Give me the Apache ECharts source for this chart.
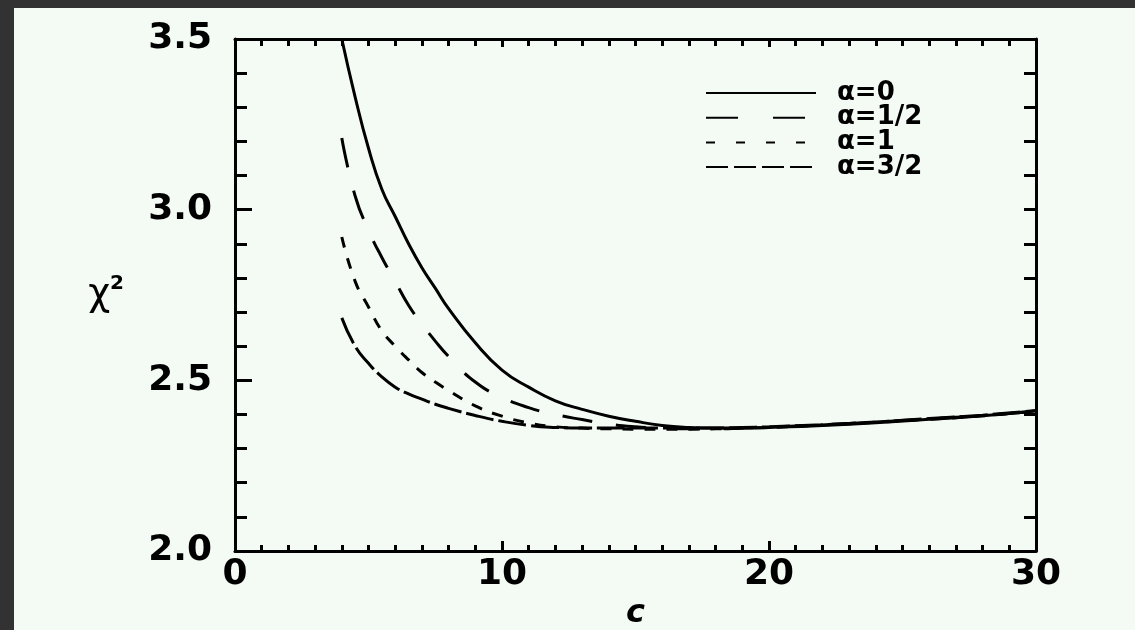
<!DOCTYPE html>
<html>
<head>
<meta charset="utf-8">
<script src="https://cdn.jsdelivr.net/npm/echarts@6/dist/echarts.min.js"></script>
<style>
  html, body { margin: 0; padding: 0; background: #323232; }
  #main { position: absolute; left: 14px; top: 8px; width: 1121px; height: 622px; }
</style>
</head>
<body>
<div id="main"></div>
<script>
// shared c values (x axis)
var cValues = [4, 4.5, 5, 5.5, 6, 6.5, 7, 7.5, 8, 9, 10, 11, 12, 13, 14, 15, 16, 17, 18, 19, 20, 22, 24, 26, 28, 30];

// chi^2 for each alpha
var alpha0  = [3.50, 3.33, 3.18, 3.06, 2.98, 2.90, 2.83, 2.77, 2.71, 2.61, 2.53, 2.48, 2.44, 2.415, 2.395, 2.38, 2.368, 2.362, 2.36, 2.36, 2.362, 2.368, 2.376, 2.386, 2.396, 2.41];
var alpha05 = [3.21, 3.04, 2.94, 2.86, 2.79, 2.72, 2.665, 2.615, 2.57, 2.495, 2.45, 2.42, 2.40, 2.385, 2.372, 2.364, 2.36, 2.358, 2.358, 2.36, 2.363, 2.37, 2.378, 2.387, 2.397, 2.41];
var alpha1  = [2.92, 2.79, 2.715, 2.645, 2.60, 2.56, 2.523, 2.495, 2.47, 2.425, 2.395, 2.375, 2.364, 2.36, 2.358, 2.357, 2.357, 2.357, 2.358, 2.36, 2.362, 2.369, 2.377, 2.386, 2.396, 2.41];
var alpha15 = [2.683, 2.60, 2.55, 2.51, 2.48, 2.46, 2.445, 2.43, 2.418, 2.397, 2.38, 2.368, 2.362, 2.36, 2.36, 2.36, 2.36, 2.36, 2.36, 2.362, 2.364, 2.37, 2.378, 2.388, 2.398, 2.412];

var seriesNames = ['α=0', 'α=1/2', 'α=1', 'α=3/2'];
var seriesData = [alpha0, alpha05, alpha1, alpha15];
var plotDash = ['solid', [30, 24], [11, 11], [28, 5]];
var legendDash = ['solid', [32, 35], [9, 21], [22, 6]];

function pairs(ys) {
  return cValues.map(function (c, i) { return [c, ys[i]]; });
}

var font = 'DejaVu Sans';
var ink = '#000';

var chart = echarts.init(document.getElementById('main'));

var option = {
  backgroundColor: '#f4fbf4',
  animation: false,
  grid: { left: 221, right: 99, top: 31, bottom: 79, outerBoundsMode: 'none', containLabel: false },
  legend: {
    orient: 'vertical',
    left: 686,
    top: 67,
    itemWidth: 110,
    itemHeight: 20,
    itemGap: -1.3,
    textStyle: { fontFamily: font, fontWeight: 'bold', fontSize: 26, color: ink, lineHeight: 20, padding: [0, 0, 0, 16] },
    data: seriesNames.map(function (n, i) {
      return { name: n, itemStyle: { opacity: 0 }, lineStyle: { color: ink, width: 2, type: legendDash[i] } };
    })
  },
  xAxis: [{
    type: 'value', min: 0, max: 30, interval: 10,
    name: 'c', nameLocation: 'middle', nameGap: 41,
    nameTextStyle: { fontFamily: font, fontSize: 32, fontWeight: 'bold', fontStyle: 'italic', color: ink },
    axisLine: { onZero: false, lineStyle: { color: ink, width: 3 } },
    axisTick: { inside: true, length: 10, lineStyle: { color: ink, width: 3 } },
    minorTick: { show: true, splitNumber: 10, length: 6, lineStyle: { color: ink, width: 3 } },
    axisLabel: { margin: 6, fontFamily: font, fontSize: 36, fontWeight: 'bold', color: ink },
    splitLine: { show: false }
  }, {
    type: 'value', min: 0, max: 30, interval: 10, position: 'top',
    axisLine: { onZero: false, lineStyle: { color: ink, width: 3 } },
    axisTick: { inside: true, length: 8, lineStyle: { color: ink, width: 3 } },
    minorTick: { show: true, splitNumber: 10, length: 7, lineStyle: { color: ink, width: 3 } },
    axisLabel: { show: false },
    splitLine: { show: false }
  }],
  yAxis: [{
    type: 'value', min: 2, max: 3.5, interval: 0.5,
    name: 'χ{sup|2}', nameLocation: 'middle', nameRotate: 0, nameGap: 111,
    nameTextStyle: {
      fontFamily: font, fontSize: 38, color: ink,
      rich: { sup: { fontFamily: font, fontSize: 20, fontWeight: 'bold', color: ink, verticalAlign: 'top', padding: [0, 0, 22, 0] } }
    },
    axisLine: { onZero: false, lineStyle: { color: ink, width: 3 } },
    axisTick: { inside: true, length: 17, lineStyle: { color: ink, width: 3 } },
    minorTick: { show: true, splitNumber: 5, length: 12, lineStyle: { color: ink, width: 3 } },
    axisLabel: { margin: 23, fontFamily: font, fontSize: 36, fontWeight: 'bold', color: ink, formatter: function (v) { return v.toFixed(1); } },
    splitLine: { show: false }
  }, {
    type: 'value', min: 2, max: 3.5, interval: 0.5, position: 'right',
    axisLine: { show: true, onZero: false, lineStyle: { color: ink, width: 3 } },
    axisTick: { show: true, inside: true, length: 12, lineStyle: { color: ink, width: 3 } },
    minorTick: { show: true, splitNumber: 5, length: 12, lineStyle: { color: ink, width: 3 } },
    axisLabel: { show: false },
    splitLine: { show: false }
  }],
  series: seriesNames.map(function (n, i) {
    return {
      name: n, type: 'line', xAxisIndex: 0, yAxisIndex: 0,
      data: pairs(seriesData[i]), smooth: true, symbol: 'none',
      lineStyle: { color: ink, width: 3, type: plotDash[i] },
      itemStyle: { color: ink }
    };
  })
};

chart.setOption(option);
</script>
</body>
</html>
